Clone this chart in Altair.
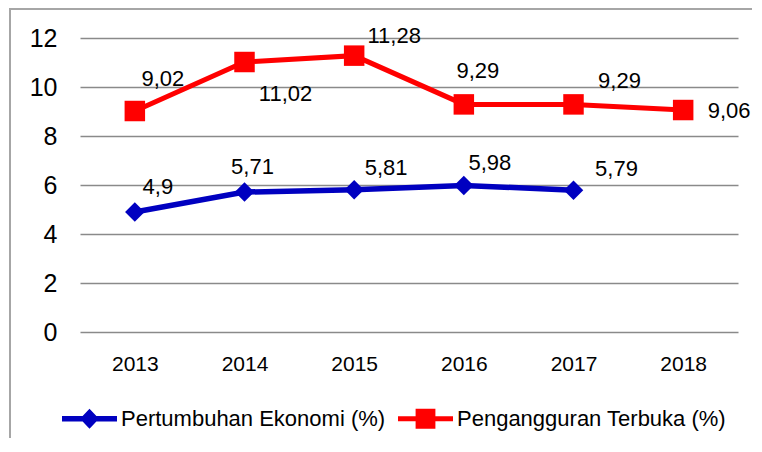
import altair as alt
import pandas as pd

# ---- data ----
years = ["2013", "2014", "2015", "2016", "2017", "2018"]
pertumbuhan = [4.9, 5.71, 5.81, 5.98, 5.79, None]
pengangguran = [9.02, 11.02, 11.28, 9.29, 9.29, 9.06]
series_names = ["Pertumbuhan Ekonomi (%)", "Pengangguran Terbuka (%)"]
y_ticks = [0, 2, 4, 6, 8, 10, 12]

# label offsets (pixels) for the value labels
pert_dx = [23, 8, 32, 26, 43, 0]
pert_dy = [-25, -25, -22, -22, -21, 0]
peng_dx = [28, 41, 40, 14, 46, 46]
peng_dy = [-32, 32, -20, -33, -23, 1]

BLUE = "#0000C0"
RED = "#FF0000"
FONT = "Liberation Sans, Arial"

rows = []
for i, y in enumerate(years):
    if pertumbuhan[i] is not None:
        rows.append(dict(year=y, series=series_names[0], value=pertumbuhan[i],
                         label=str(pertumbuhan[i]).replace(".", ","),
                         dx=pert_dx[i], dy=pert_dy[i]))
    rows.append(dict(year=y, series=series_names[1], value=pengangguran[i],
                     label=str(pengangguran[i]).replace(".", ","),
                     dx=peng_dx[i], dy=peng_dy[i]))
df = pd.DataFrame(rows)

W, H = 658, 294
PX_PER_UNIT = H / 12.0

x_enc = alt.X("year:N", sort=years,
              scale=alt.Scale(type="point", padding=0.5),
              axis=alt.Axis(title=None, ticks=False, domain=False, grid=False,
                            labelAngle=0, labelFont=FONT, labelFontSize=21,
                            labelColor="#000000", labelPadding=21, tickSize=0))
y_scale = alt.Scale(domain=[0, 12], nice=False)
y_enc = alt.Y("value:Q", scale=y_scale,
              axis=alt.Axis(title=None, values=y_ticks, ticks=False, tickSize=0,
                            domain=False, grid=True, gridColor="#8a8a8a",
                            gridWidth=1.6, labelFont=FONT, labelFontSize=25,
                            labelColor="#000000", labelPadding=23))

base = alt.Chart(df)
blue = base.transform_filter(alt.datum.series == series_names[0])
red = base.transform_filter(alt.datum.series == series_names[1])

frame = alt.Chart(pd.DataFrame({"a": [0]})).mark_rect(
    fillOpacity=0, stroke="#a6a6a6", strokeWidth=2
).encode(x=alt.value(-70), x2=alt.value(760), y=alt.value(-29), y2=alt.value(600))

blue_line = blue.mark_line(color=BLUE, strokeWidth=5.5).encode(x=x_enc, y=y_enc)
red_line = red.mark_line(color=RED, strokeWidth=5).encode(x=x_enc, y=y_enc)
blue_pts = blue.mark_point(shape="diamond", filled=True, color=BLUE, size=380,
                           opacity=1).encode(x=x_enc, y=y_enc)
red_pts = red.mark_point(shape="square", filled=True, color=RED, size=420,
                         opacity=1).encode(x=x_enc, y=y_enc)

labels = base.transform_calculate(
    ylab=f"datum.value - datum.dy / {PX_PER_UNIT}"
).mark_text(font=FONT, fontSize=22, color="#000000",
            align="center", baseline="middle").encode(
    x=x_enc,
    y=alt.Y("ylab:Q", scale=y_scale),
    text="label:N",
    xOffset=alt.XOffset("dx:Q", scale=None),
)

# legend symbols: line with marker in the middle
diamond_line = ("M-1,-0.1 L-0.25,-0.1 L0,-0.36 L0.25,-0.1 L1,-0.1 L1,0.1 "
                "L0.25,0.1 L0,0.36 L-0.25,0.1 L-1,0.1 Z")
square_line = ("M-1,-0.09 L-0.36,-0.09 L-0.36,-0.36 L0.36,-0.36 L0.36,-0.09 "
               "L1,-0.09 L1,0.09 L0.36,0.09 L0.36,0.36 L-0.36,0.36 L-0.36,0.09 "
               "L-1,0.09 Z")

legend = alt.Legend(title=None, orient="none", direction="horizontal",
                    legendX=-18, legendY=353, padding=0,
                    symbolSize=3025, symbolOpacity=1, symbolStrokeWidth=0,
                    labelFont=FONT, labelFontSize=22, labelColor="#000000",
                    labelOffset=4, columnPadding=12, labelLimit=400)

legend_layer = base.mark_point(filled=True, opacity=0).encode(
    x=x_enc, y=y_enc,
    fill=alt.Fill("series:N", scale=alt.Scale(domain=series_names, range=[BLUE, RED]),
                  legend=legend),
    shape=alt.Shape("series:N", scale=alt.Scale(domain=series_names,
                                                range=[diamond_line, square_line]),
                    legend=legend),
)

chart = alt.layer(
    frame, legend_layer, blue_line, red_line, blue_pts, red_pts, labels
).properties(
    width=W, height=H,
    autosize=alt.AutoSizeParams(type="none"),
    padding={"left": 72, "top": 30, "right": 14, "bottom": 106},
    background="#ffffff",
).configure_view(stroke=None)

chart.save("out.html", embed_options={"renderer": "svg", "actions": False})
